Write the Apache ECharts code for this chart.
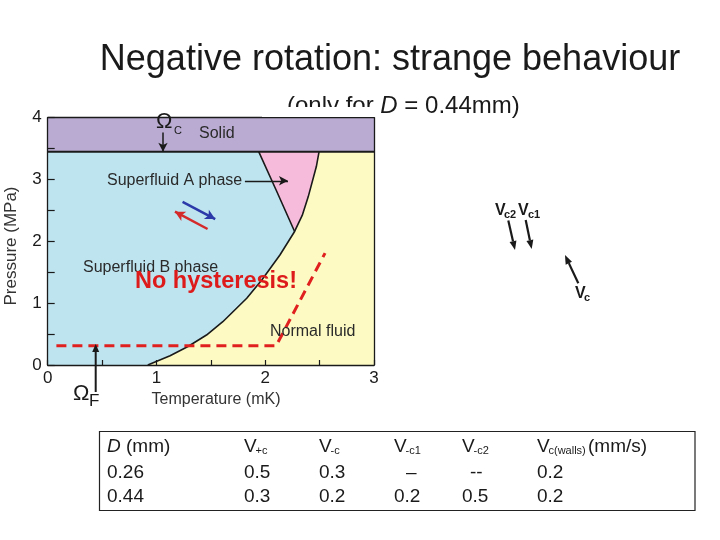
<!DOCTYPE html>
<html><head><meta charset="utf-8">
<script src="https://cdn.jsdelivr.net/npm/echarts@6/dist/echarts.min.js"></script>
<style>html,body{margin:0;padding:0;background:#fff}#c{width:720px;height:540px}</style>
</head><body><div id="c"></div>
<script>
// ---------- data ----------
const xTickLabels = [0, 1, 2, 3];
const yTickLabels = [0, 1, 2, 3, 4];
const meltingPressure = 3.45;   // MPa, solid / liquid boundary
const maxPressure = 4;
const maxTemperature = 3;
// superfluid / normal fluid boundary (T in mK, P in MPa)
const normalBoundaryT = [0.92, 1.125, 1.29, 1.46, 1.61, 1.83, 1.97, 2.135, 2.27, 2.34, 2.395, 2.47, 2.495];
const normalBoundaryP = [0.00, 0.15, 0.30, 0.485, 0.70, 1.08, 1.38, 1.78, 2.16, 2.42, 2.72, 3.21, 3.45];
// A / B phase boundary
const abBoundaryT = [1.94, 2.10, 2.27];
const abBoundaryP = [3.45, 2.83, 2.16];
// red dashed sweep path
const sweepT = [0.08, 2.10, 2.55];
const sweepP = [0.31, 0.31, 1.81];
// blue and red arrows
const blueArrowT = [1.24, 1.54];
const blueArrowP = [2.64, 2.36];
const redArrowT = [1.47, 1.17];
const redArrowP = [2.20, 2.48];
// "Superfluid A phase" pointer and Omega_C pointer
const aPointerT = [1.813, 2.209];
const aPointerP = [2.98, 2.98];
const omegaCT = [1.06, 1.06];
const omegaCP = [3.76, 3.45];
// table
const tableCols = ['D (mm)', 'V+c', 'V-c', 'V-c1', 'V-c2', 'Vc(walls)'];
const tableRow1 = ['0.26', '0.5', '0.3', '–', '--', '0.2'];
const tableRow2 = ['0.44', '0.3', '0.2', '0.2', '0.5', '0.2'];

// ---------- chart ----------
const FONT = '"Liberation Sans", Arial, Helvetica, sans-serif';
const INK = '#1a1a1a';
const chart = echarts.init(document.getElementById('c'));

function region(ts, ps, color) {
  return {
    type: 'custom', coordinateSystem: 'cartesian2d', silent: true, z: 1,
    data: [[ts[0], ps[0]]],
    renderItem: (params, api) => ({
      type: 'polygon',
      shape: { points: ts.map((t, i) => api.coord([t, ps[i]])) },
      style: { fill: color }
    })
  };
}
function zip(ts, ps) { return ts.map((t, i) => [t, ps[i]]); }
function lineSeries(ts, ps, style, z) {
  return { type: 'line', data: zip(ts, ps), symbol: 'none', silent: true, z: z || 3,
    lineStyle: style, animation: false };
}

const tcpIdx = normalBoundaryT.indexOf(abBoundaryT[abBoundaryT.length - 1]);
const pinkT = abBoundaryT.concat(normalBoundaryT.slice(tcpIdx + 1));
const pinkP = abBoundaryP.concat(normalBoundaryP.slice(tcpIdx + 1));
const yellowT = normalBoundaryT.concat([maxTemperature, maxTemperature]);
const yellowP = normalBoundaryP.concat([meltingPressure, 0]);

function arrowItem(ts, ps, color, width, size) {
  return [
    { coord: [ts[0], ps[0]], symbol: 'none', lineStyle: { color, width, type: 'solid' } },
    { coord: [ts[1], ps[1]], symbol: 'arrow', symbolSize: size, lineStyle: { color, width, type: 'solid' } }
  ];
}

// pixel helpers for annotations
function txt(x, y, text, font, opts) {
  opts = opts || {};
  return { type: 'text', x, y, z: 100, rotation: opts.rotation || 0,
    style: { text, font, fill: opts.fill || INK,
      textAlign: opts.align || 'left', textVerticalAlign: opts.valign || 'middle', rich: opts.rich } };
}
function arrowPx(x1, y1, x2, y2, color, w, hl, hw) {
  const a = Math.atan2(y2 - y1, x2 - x1);
  const bx = x2 - hl * Math.cos(a), by = y2 - hl * Math.sin(a);
  const px = -Math.sin(a) * hw / 2, py = Math.cos(a) * hw / 2;
  return [
    { type: 'line', z: 100, shape: { x1, y1, x2: bx, y2: by }, style: { stroke: color, lineWidth: w } },
    { type: 'polygon', z: 100, shape: { points: [[x2, y2], [bx + px, by + py], [bx - px, by - py]] }, style: { fill: color } }
  ];
}
function vsub(x, y, sub, size, subSize, bold, subDx, subDy) {
  const w = bold ? 'bold ' : '';
  return [
    txt(x, y, 'V', w + size + 'px ' + FONT),
    txt(x + subDx, y + subDy, sub, w + subSize + 'px ' + FONT)
  ];
}

const colX = [107, 244, 319, 394, 462, 537];
const rowY = [447, 473, 497];
const graphics = [];
graphics.push(txt(390, 60, 'Negative rotation: strange behaviour', '36px ' + FONT, { align: 'center' }));
graphics.push(txt(287, 106, '(only for {i|D} = 0.44mm)', '24px ' + FONT,
  { rich: { i: { fontStyle: 'italic', fontSize: 24, fontFamily: FONT, fill: INK } } }));
graphics.push({ type: 'rect', z: 101, shape: { x: 262, y: 107, width: 117, height: 10 }, style: { fill: '#fff' } });
// axis names
graphics.push(txt(11, 246, 'Pressure (MPa)', '17px ' + FONT, { align: 'center', rotation: Math.PI / 2, fill: '#333' }));
graphics.push(txt(216, 400, 'Temperature (mK)', '16px ' + FONT, { align: 'center', fill: '#333' }));
// region labels
graphics.push(txt(199, 134, 'Solid', '16px ' + FONT, { fill: '#2a2a2a' }));
graphics.push(txt(107, 181, 'Superfluid A phase', '16px ' + FONT, { fill: '#2a2a2a' }));
graphics.push(txt(83, 268, 'Superfluid B phase', '16px ' + FONT, { fill: '#2a2a2a' }));
graphics.push(txt(270, 331.5, 'Normal fluid', '16px ' + FONT, { fill: '#2a2a2a' }));
graphics.push(txt(135, 282, 'No hysteresis!', 'bold 23.5px ' + FONT, { fill: '#dd1b1b' }));
// Omega labels
graphics.push(txt(156, 122, 'Ω', '22px ' + FONT));
graphics.push(txt(174, 131, 'C', '11px ' + FONT));
graphics.push(txt(73, 394, 'Ω', '22px ' + FONT));
graphics.push(txt(89, 401.5, 'F', '17px ' + FONT));
graphics.push(...arrowPx(95.7, 392, 95.7, 344, INK, 2, 8, 7));
// Vc annotations
graphics.push(...vsub(495, 211, 'c2', 16, 11, true, 9, 4));
graphics.push(...vsub(518, 211, 'c1', 16, 11, true, 10, 4));
graphics.push(...vsub(575, 294, 'c', 16, 11, true, 9, 4));
graphics.push(...arrowPx(508.3, 220.5, 515, 250, INK, 2.2, 9, 7));
graphics.push(...arrowPx(525.7, 220, 531.7, 249, INK, 2.2, 9, 7));
graphics.push(...arrowPx(578.3, 283.3, 565, 255, INK, 2.2, 9, 7));
// table
graphics.push({ type: 'rect', z: 100, shape: { x: 99.5, y: 431.5, width: 595.5, height: 79 }, style: { fill: 'none', stroke: '#222', lineWidth: 1.2 } });
const TF = '19px ' + FONT;
graphics.push(txt(colX[0], rowY[0], '{i|D} (mm)', TF, { rich: { i: { fontStyle: 'italic', fontSize: 19, fontFamily: FONT, fill: INK } } }));
for (let c = 1; c < tableCols.length; c++) {
  const sub = tableCols[c].slice(1);
  graphics.push(...vsub(colX[c], rowY[0], sub, 19, 11, false, 11.5, 4));
}
graphics.push(txt(588, rowY[0], '(mm/s)', TF));
[tableRow1, tableRow2].forEach((row, r) => {
  row.forEach((v, c) => {
    const dx = v === '–' ? 12 : (v === '--' ? 8 : 0);
    graphics.push(txt(colX[c] + dx, rowY[r + 1], v, TF));
  });
});

function tickFmt(list) { return v => (list.indexOf(v) >= 0 ? String(v) : ''); }
const axisLine = { show: true, onZero: false, lineStyle: { color: INK, width: 1.3 } };

chart.setOption({
  animation: false,
  grid: { left: 47.7, right: 346, top: 117.7, bottom: 175, containLabel: false },
  xAxis: [
    { type: 'value', min: 0, max: maxTemperature, interval: 0.5, position: 'bottom', z: 10,
      axisLine, splitLine: { show: false },
      axisTick: { inside: true, length: 5, lineStyle: { color: INK, width: 1.2 } },
      axisLabel: { margin: 5, fontSize: 17, color: INK, fontFamily: FONT, formatter: tickFmt(xTickLabels) } },
    { type: 'value', min: 0, max: maxTemperature, position: 'top', z: 10, axisLine,
      axisTick: { show: false }, axisLabel: { show: false }, splitLine: { show: false } }
  ],
  yAxis: [
    { type: 'value', min: 0, max: maxPressure, interval: 0.5, position: 'left', z: 10,
      axisLine, splitLine: { show: false },
      axisTick: { inside: true, length: 7, lineStyle: { color: INK, width: 1.2 } },
      axisLabel: { margin: 6, fontSize: 17, color: INK, fontFamily: FONT, formatter: tickFmt(yTickLabels) } },
    { type: 'value', min: 0, max: maxPressure, position: 'right', z: 10, axisLine,
      axisTick: { show: false }, axisLabel: { show: false }, splitLine: { show: false } }
  ],
  series: [
    region([0, maxTemperature, maxTemperature, 0], [0, 0, meltingPressure, meltingPressure], '#bee4f0'),
    region(yellowT, yellowP, '#fdfbc3'),
    region(pinkT, pinkP, '#f6bbda'),
    region([0, maxTemperature, maxTemperature, 0], [meltingPressure, meltingPressure, maxPressure, maxPressure], '#b9abd1'),
    lineSeries(normalBoundaryT, normalBoundaryP, { color: INK, width: 1.6 }),
    lineSeries(abBoundaryT, abBoundaryP, { color: INK, width: 1.6 }),
    lineSeries([0, maxTemperature], [meltingPressure, meltingPressure], { color: INK, width: 2 }),
    lineSeries(sweepT, sweepP, { color: '#e0201e', width: 3, type: [10, 6] }, 4),
    { type: 'line', data: [], silent: true, z: 5,
      markLine: { silent: true, animation: false, label: { show: false }, symbol: ['none', 'arrow'],
        data: [
          arrowItem(blueArrowT, blueArrowP, '#2b3aa8', 2.5, [8, 10]),
          arrowItem(redArrowT, redArrowP, '#d42a2a', 2.5, [8, 10]),
          arrowItem(aPointerT, aPointerP, INK, 1.3, [7, 9]),
          arrowItem(omegaCT, omegaCP, INK, 1.5, [7, 9])
        ] } }
  ],
  graphic: graphics
});
</script></body></html>
